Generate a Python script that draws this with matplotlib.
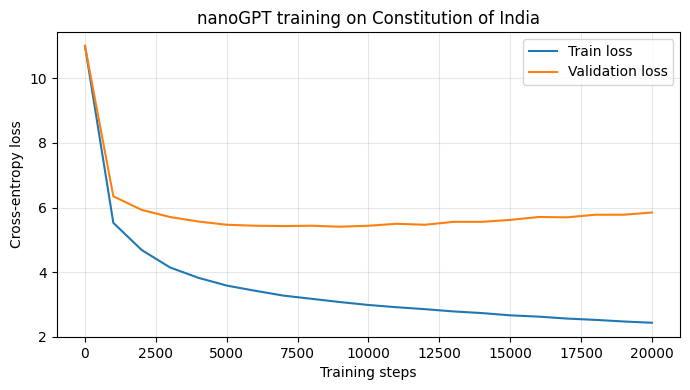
import matplotlib
matplotlib.use("Agg")
import matplotlib.pyplot as plt

steps = list(range(0, 20001, 1000))
train_loss = [11.0, 5.53, 4.69, 4.15, 3.83, 3.59, 3.43, 3.28, 3.18, 3.08, 2.99,
              2.92, 2.86, 2.79, 2.74, 2.67, 2.63, 2.57, 2.53, 2.48, 2.44]
val_loss = [11.0, 6.35, 5.93, 5.71, 5.57, 5.47, 5.44, 5.43, 5.44, 5.41, 5.44,
            5.50, 5.47, 5.56, 5.56, 5.62, 5.71, 5.70, 5.78, 5.78, 5.85]


def main():
    fig, ax = plt.subplots(figsize=(6.9, 3.9), dpi=100)
    ax.plot(steps, train_loss, label="Train loss")
    ax.plot(steps, val_loss, label="Validation loss")
    ax.set_ylim(bottom=2)
    ax.set_title("nanoGPT training on Constitution of India")
    ax.set_xlabel("Training steps")
    ax.set_ylabel("Cross-entropy loss")
    ax.grid(True, alpha=0.3)
    ax.legend(loc="upper right")
    fig.tight_layout(pad=0.7)
    fig.savefig("out.png")


if __name__ == "__main__":
    main()
